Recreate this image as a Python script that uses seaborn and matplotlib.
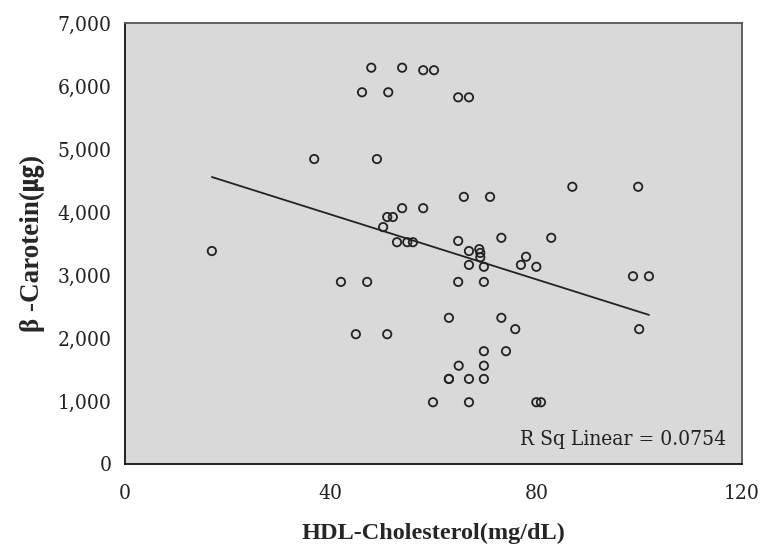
import matplotlib
matplotlib.use("Agg")
import matplotlib.pyplot as plt
import seaborn as sns
import pandas as pd

hdl = [47.9, 53.9, 58.0, 60.1, 46.1, 51.2, 64.8, 66.9, 36.8, 49.0,
       16.9, 42.0, 47.1, 44.9, 51.0, 65.9, 71.0, 87.0, 99.8, 53.9,
       58.0, 51.0, 52.1, 50.2, 52.9, 54.9, 56.0, 64.8, 73.2, 82.9,
       66.9, 68.9, 69.1, 69.1, 66.9, 69.8, 78.0, 77.0, 80.0, 64.8,
       69.8, 98.8, 101.9, 100.0, 63.0, 73.2, 75.9, 69.8, 74.1, 64.9,
       69.8, 63.0, 63.0, 66.9, 69.8, 59.9, 66.9, 80.0, 80.9]
carotene = [6290, 6290, 6250, 6250, 5900, 5900, 5820, 5820, 4840, 4840,
            3380, 2890, 2890, 2060, 2060, 4240, 4240, 4400, 4400, 4060,
            4060, 3920, 3920, 3760, 3520, 3520, 3520, 3540, 3590, 3590,
            3380, 3410, 3350, 3280, 3160, 3130, 3290, 3160, 3130, 2890,
            2890, 2980, 2980, 2140, 2320, 2320, 2140, 1790, 1790, 1560,
            1560, 1350, 1350, 1350, 1350, 980, 980, 980, 980]
x_ticks = [0, 40, 80, 120]
y_ticks = [0, 1000, 2000, 3000, 4000, 5000, 6000, 7000]
x_label = "HDL-Cholesterol(mg/dL)"
y_label = "β -Carotein(㎍)"
r2_text = "R Sq Linear = 0.0754"

df = pd.DataFrame({"hdl": hdl, "carotene": carotene})

sns.set_style("white")
plt.rcParams["font.family"] = ["Liberation Serif", "Noto Sans CJK KR", "DejaVu Sans"]

fig = plt.figure(figsize=(7.63, 5.59), dpi=100)
ax = fig.add_axes([0.1638, 0.17, 0.8087, 0.7889])
ax.set_facecolor("#d9d9d9")

sns.regplot(data=df, x="hdl", y="carotene", ax=ax, scatter=False, ci=None,
            truncate=True, line_kws={"color": "#222222", "linewidth": 1.3})
sns.scatterplot(data=df, x="hdl", y="carotene", ax=ax, marker="o", s=36,
                facecolor="none", edgecolor="#222222", linewidth=1.3, zorder=3)

ax.set_xlim(0, 120)
ax.set_ylim(0, 7000)
ax.set_xticks(x_ticks)
ax.set_yticks(y_ticks)
ax.set_xticklabels([str(v) for v in x_ticks])
ax.set_yticklabels([f"{v:,}" for v in y_ticks])

tick_font = ["DejaVu Serif", "Liberation Serif"]
for lab in ax.get_xticklabels() + ax.get_yticklabels():
    lab.set_family(tick_font)
    lab.set_stretch("condensed")
    lab.set_fontsize(15)
    lab.set_color("#222222")

ax.tick_params(axis="both", direction="inout", length=7, width=1.0, color="#222222")
ax.tick_params(axis="x", pad=11)
ax.tick_params(axis="y", pad=6)

for side in ["left", "bottom"]:
    ax.spines[side].set_color("#111111")
    ax.spines[side].set_linewidth(1.3)
for side in ["top", "right"]:
    ax.spines[side].set_color("#555555")
    ax.spines[side].set_linewidth(1.3)

ax.set_xlabel(x_label, fontsize=17.5, fontweight="bold", labelpad=14,
              family=["Liberation Serif", "Noto Sans CJK KR"])
ax.set_ylabel(y_label, fontsize=19.5, fontweight="bold", labelpad=9,
              family=["Liberation Serif", "Noto Sans CJK KR"])

ax.text(0.975, 0.035, r2_text, transform=ax.transAxes, ha="right", va="bottom",
        fontsize=15, family=tick_font, stretch="condensed", color="#222222")

fig.savefig("out.png", dpi=100)
